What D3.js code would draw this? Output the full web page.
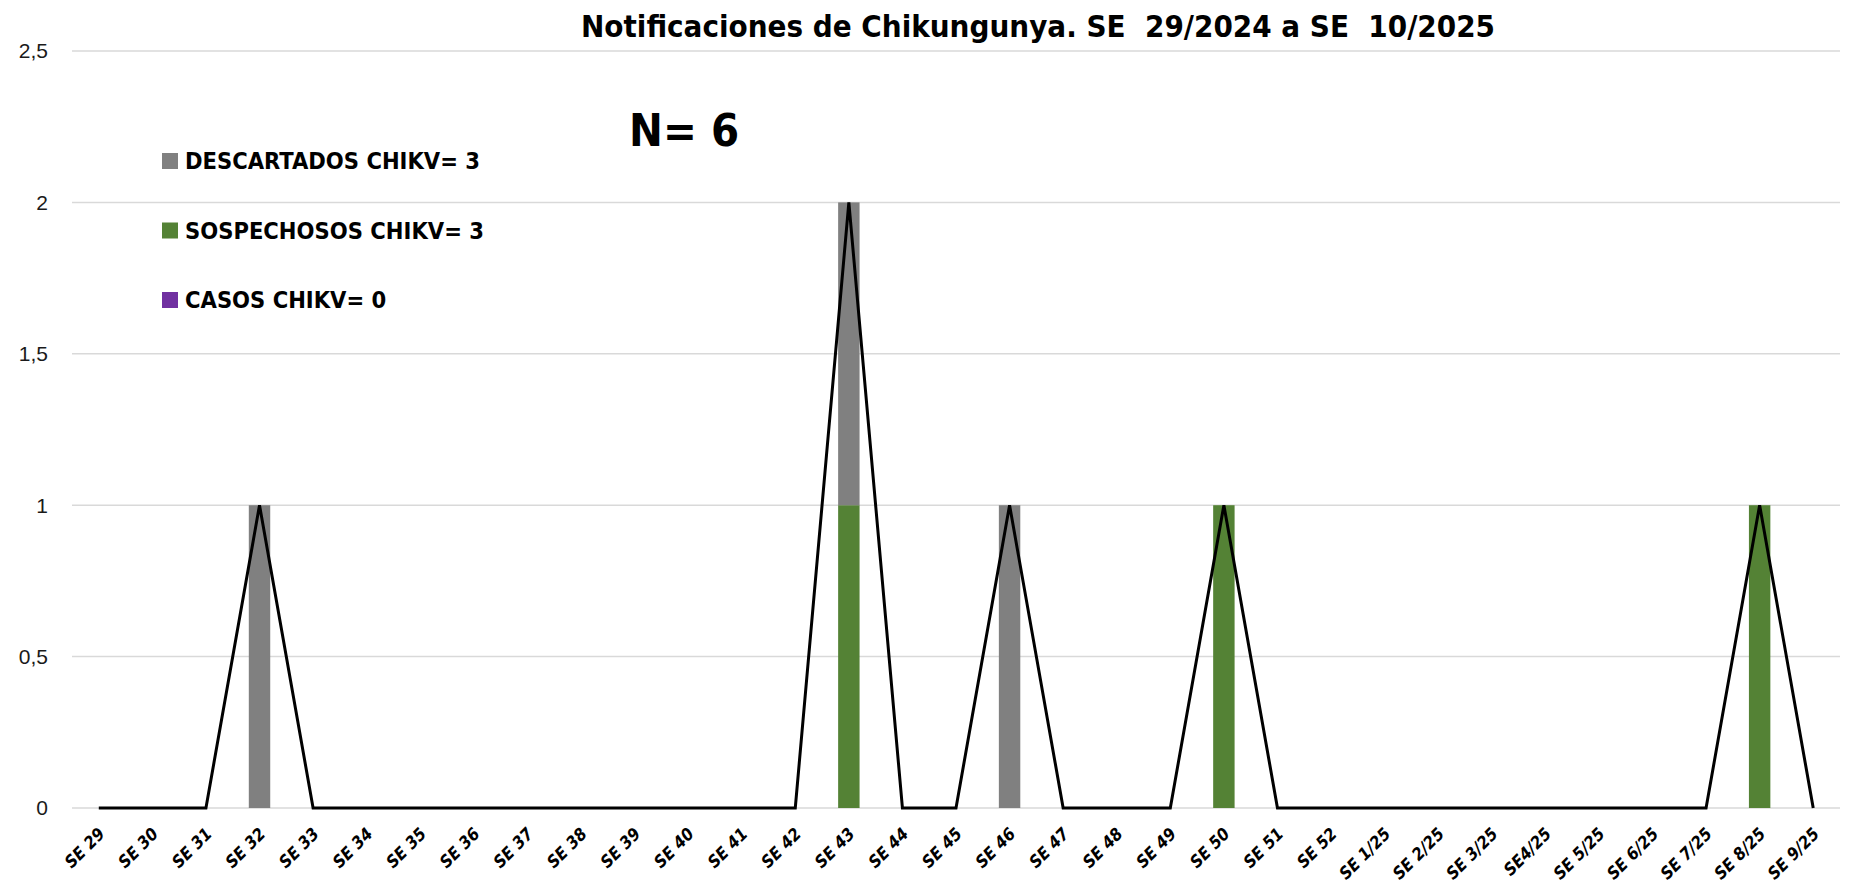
<!DOCTYPE html>
<html>
<head>
<meta charset="utf-8">
<script src="https://cdn.jsdelivr.net/npm/d3@7"></script>
<style>
  html, body { margin: 0; padding: 0; background: #fff; }
  svg { display: block; }
  .cond { font-family: "Liberation Sans Narrow", "DejaVu Sans Condensed", sans-serif; }
</style>
</head>
<body>
<svg id="chart"></svg>
<script>
// Weeks (categories)
const weeks = ["SE 29", "SE 30", "SE 31", "SE 32", "SE 33", "SE 34", "SE 35", "SE 36", "SE 37",
    "SE 38", "SE 39", "SE 40", "SE 41", "SE 42", "SE 43", "SE 44", "SE 45", "SE 46", "SE 47",
    "SE 48", "SE 49", "SE 50", "SE 51", "SE 52", "SE 1/25", "SE 2/25", "SE 3/25", "SE4/25",
    "SE 5/25", "SE 6/25", "SE 7/25", "SE 8/25", "SE 9/25"];

// Series values per week
const casos       = [0,0,0,0,0,0,0,0,0,0,0,0,0,0,0,0,0,0,0,0,0,0,0,0,0,0,0,0,0,0,0,0,0];
const sospechosos = [0,0,0,0,0,0,0,0,0,0,0,0,0,0,1,0,0,0,0,0,0,1,0,0,0,0,0,0,0,0,0,1,0];
const descartados = [0,0,0,1,0,0,0,0,0,0,0,0,0,0,1,0,0,1,0,0,0,0,0,0,0,0,0,0,0,0,0,0,0];

const yTicks = [0, 0.5, 1, 1.5, 2, 2.5];
const legendItems = [
    {label: "DESCARTADOS CHIKV= 3", color: "#808080"},
    {label: "SOSPECHOSOS CHIKV= 3", color: "#548235"},
    {label: "CASOS CHIKV= 0", color: "#7030a0"}
];
const seriesKeys = ["casos", "sospechosos", "descartados"];
const seriesColors = {casos: "#7030a0", sospechosos: "#548235", descartados: "#808080"};

// Dimensions
const W = 1850, H = 886;
const margin = {top: 51, right: 10, bottom: 78, left: 72};
const width = W - margin.left - margin.right;
const height = H - margin.top - margin.bottom;

const svg = d3.select("#chart").attr("width", W).attr("height", H);
const g = svg.append("g").attr("transform", `translate(${margin.left},${margin.top})`);

const x = d3.scaleBand().domain(weeks).range([0, width]).paddingInner(0.6).paddingOuter(0.3);
const xc = d => x(d) + x.bandwidth() / 2;
const y = d3.scaleLinear().domain([0, 2.5]).range([height, 0]);

// Gridlines
g.selectAll("line.grid")
    .data(yTicks)
    .enter().append("line")
    .attr("class", "grid")
    .attr("x1", 0).attr("x2", width)
    .attr("y1", d => y(d)).attr("y2", d => y(d))
    .style("stroke", "#d9d9d9")
    .style("stroke-width", "1.5px");

// Y axis labels
const fmt = d => String(d).replace(".", ",");
g.selectAll("text.ytick")
    .data(yTicks)
    .enter().append("text")
    .attr("class", "ytick")
    .attr("x", -24)
    .attr("y", d => y(d))
    .attr("dy", "0.35em")
    .attr("text-anchor", "end")
    .style("font-family", "'Liberation Sans', Arial, sans-serif")
    .style("font-size", "21px")
    .style("fill", "#1a1a1a")
    .text(fmt);

// Stacked bars
const rows = weeks.map((w, i) => ({week: w, casos: casos[i], sospechosos: sospechosos[i], descartados: descartados[i]}));
const stack = d3.stack().keys(seriesKeys)(rows);

g.selectAll("g.series")
    .data(stack)
    .enter().append("g")
    .attr("class", "series")
    .style("fill", d => seriesColors[d.key])
    .selectAll("rect")
    .data(d => d.filter(p => p[1] > p[0]))
    .enter().append("rect")
    .attr("x", d => x(d.data.week))
    .attr("y", d => y(d[1]))
    .attr("width", x.bandwidth())
    .attr("height", d => y(d[0]) - y(d[1]));

// Total line
const totals = weeks.map((w, i) => ({week: w, v: casos[i] + sospechosos[i] + descartados[i]}));
const line = d3.line().x(d => xc(d.week)).y(d => y(d.v));
g.append("path")
    .datum(totals)
    .attr("d", line)
    .style("fill", "none")
    .style("stroke", "#000")
    .style("stroke-width", "3px")
    .style("stroke-linejoin", "miter");

// X axis labels (rotated)
g.selectAll("text.xtick")
    .data(weeks)
    .enter().append("text")
    .attr("class", "xtick cond")
    .attr("transform", d => `translate(${xc(d) + 7},${height + 27}) rotate(-45)`)
    .attr("text-anchor", "end")
    .style("font-size", "17px")
    .style("font-weight", "bold")
    .style("font-style", "italic")
    .style("fill", "#000")
    .text(d => d);

// Title
svg.append("text")
    .attr("class", "cond")
    .attr("x", 1038)
    .attr("y", 37)
    .attr("text-anchor", "middle")
    .style("font-size", "31px")
    .style("font-weight", "bold")
    .style("white-space", "pre")
    .attr("xml:space", "preserve")
    .text("Notificaciones de Chikungunya. SE  29/2024 a SE  10/2025");

// N label
svg.append("text")
    .attr("class", "cond")
    .attr("x", 629)
    .attr("y", 146)
    .style("font-size", "45px")
    .style("font-weight", "bold")
    .text("N= 6");

// Legend
const legend = svg.append("g").attr("transform", "translate(162,0)");
const legendRow = legend.selectAll("g")
    .data(legendItems)
    .enter().append("g")
    .attr("transform", (d, i) => `translate(0,${161 + i * 69.5})`);
legendRow.append("rect")
    .attr("x", 0).attr("y", -8)
    .attr("width", 16).attr("height", 16)
    .style("fill", d => d.color);
legendRow.append("text")
    .attr("class", "cond")
    .attr("x", 23)
    .attr("y", 0)
    .attr("dy", "0.36em")
    .style("font-size", "23.5px")
    .style("font-weight", "bold")
    .text(d => d.label);
</script>
</body>
</html>
